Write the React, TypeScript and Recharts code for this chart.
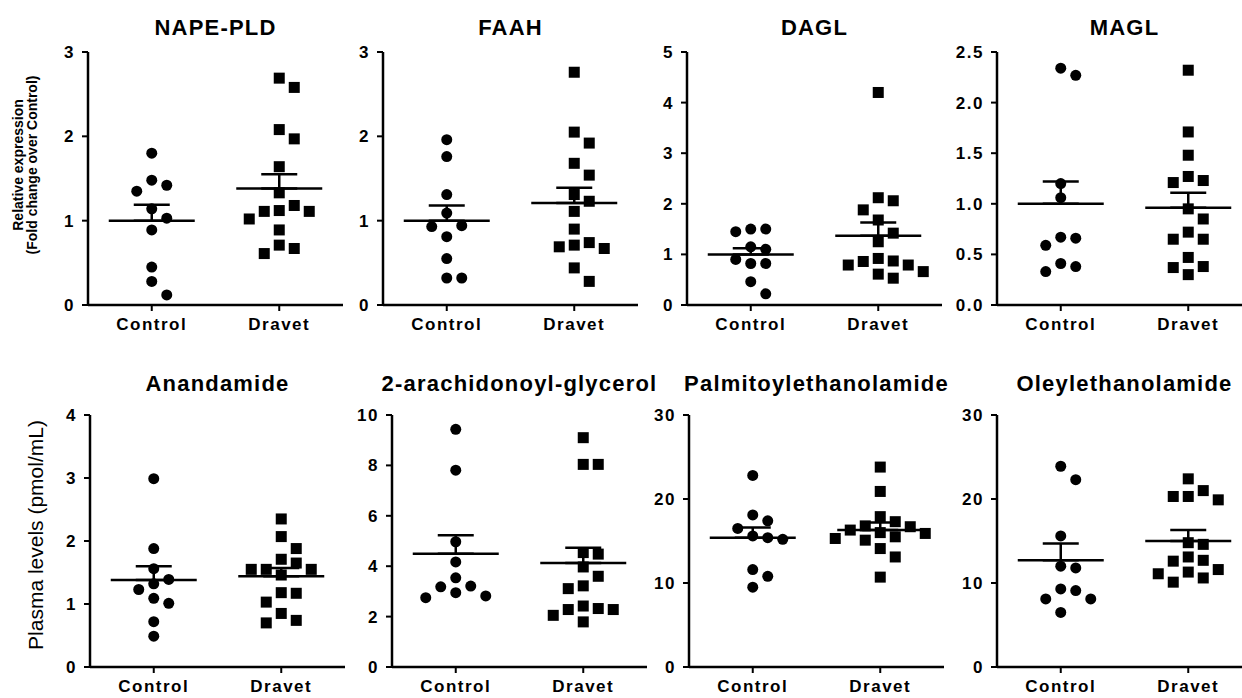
import React from "react";
import { ErrorBar, Scatter, ScatterChart, XAxis, YAxis } from "recharts";

const GROUPS = ["Control", "Dravet"];

// relative expression (fold change over control)
const napeControl = [1.8, 1.48, 1.42, 1.35, 1.14, 1.03, 0.89, 0.45, 0.28, 0.12];
const napeDravet = [2.69, 2.58, 2.08, 1.97, 1.64, 1.33, 1.18, 1.11, 1.11, 1.12, 1.02, 0.89, 0.71, 0.67, 0.61];
const napeMean = [1.0, 1.38];
const napeSem = [0.19, 0.17];
const napeTicks = [0, 1, 2, 3];

const faahControl = [1.96, 1.76, 1.31, 1.09, 0.94, 0.93, 0.81, 0.55, 0.32, 0.32];
const faahDravet = [2.76, 2.05, 1.92, 1.68, 1.54, 1.31, 1.23, 1.11, 0.9, 0.74, 0.69, 0.67, 0.71, 0.44, 0.28];
const faahMean = [1.0, 1.21];
const faahSem = [0.18, 0.18];
const faahTicks = [0, 1, 2, 3];

const daglControl = [1.5, 1.5, 1.45, 1.15, 1.1, 0.9, 0.82, 0.82, 0.46, 0.22];
const daglDravet = [4.2, 2.12, 2.06, 1.88, 1.68, 1.42, 1.25, 0.92, 0.87, 0.86, 0.79, 0.79, 0.66, 0.61, 0.53];
const daglMean = [1.0, 1.37];
const daglSem = [0.12, 0.26];
const daglTicks = [0, 1, 2, 3, 4, 5];

const maglControl = [2.34, 2.27, 1.2, 1.06, 0.67, 0.66, 0.59, 0.41, 0.38, 0.33];
const maglDravet = [2.32, 1.71, 1.48, 1.27, 1.23, 1.21, 0.95, 0.85, 0.72, 0.65, 0.65, 0.47, 0.38, 0.37, 0.3];
const maglMean = [1.0, 0.96];
const maglSem = [0.22, 0.15];
const maglTicks = [0, 0.5, 1, 1.5, 2, 2.5];

// plasma levels (pmol/mL)
const aeaControl = [2.99, 1.88, 1.56, 1.39, 1.32, 1.23, 1.09, 1.01, 0.72, 0.49];
const aeaDravet = [2.35, 2.07, 1.88, 1.71, 1.65, 1.55, 1.55, 1.55, 1.46, 1.18, 1.17, 1.03, 0.85, 0.74, 0.7];
const aeaMean = [1.38, 1.44];
const aeaSem = [0.22, 0.13];
const aeaTicks = [0, 1, 2, 3, 4];

const agControl = [9.43, 7.81, 4.97, 4.17, 3.54, 3.21, 3.18, 2.95, 2.82, 2.75];
const agDravet = [9.1, 8.04, 8.04, 4.54, 4.48, 3.97, 3.6, 3.22, 3.11, 2.42, 2.32, 2.28, 2.28, 2.05, 1.79];
const agMean = [4.49, 4.13];
const agSem = [0.74, 0.6];
const agTicks = [0, 2, 4, 6, 8, 10];

const peaControl = [22.8, 18.1, 17.4, 16.5, 15.6, 15.4, 15.2, 11.6, 10.8, 9.5];
const peaDravet = [23.8, 20.9, 17.9, 17.3, 16.8, 16.7, 16.3, 16.0, 15.9, 15.5, 15.3, 15.1, 14.1, 13.1, 10.7];
const peaMean = [15.4, 16.3];
const peaSem = [1.2, 0.9];
const peaTicks = [0, 10, 20, 30];

const oeaControl = [23.9, 22.3, 15.6, 12.0, 11.8, 9.3, 9.1, 8.1, 8.1, 6.5];
const oeaDravet = [22.4, 21.0, 20.3, 20.3, 19.9, 14.8, 14.6, 13.1, 12.7, 12.6, 11.6, 11.3, 11.1, 10.6, 10.1];
const oeaMean = [12.7, 15.0];
const oeaSem = [2.0, 1.3];
const oeaTicks = [0, 10, 20, 30];

const titles = [
  "NAPE-PLD", "FAAH", "DAGL", "MAGL",
  "Anandamide", "2-arachidonoyl-glycerol", "Palmitoylethanolamide", "Oleylethanolamide",
];

const panels = [
  { control: napeControl, dravet: napeDravet, mean: napeMean, sem: napeSem, ticks: napeTicks },
  { control: faahControl, dravet: faahDravet, mean: faahMean, sem: faahSem, ticks: faahTicks },
  { control: daglControl, dravet: daglDravet, mean: daglMean, sem: daglSem, ticks: daglTicks },
  { control: maglControl, dravet: maglDravet, mean: maglMean, sem: maglSem, ticks: maglTicks },
  { control: aeaControl, dravet: aeaDravet, mean: aeaMean, sem: aeaSem, ticks: aeaTicks },
  { control: agControl, dravet: agDravet, mean: agMean, sem: agSem, ticks: agTicks },
  { control: peaControl, dravet: peaDravet, mean: peaMean, sem: peaSem, ticks: peaTicks },
  { control: oeaControl, dravet: oeaDravet, mean: oeaMean, sem: oeaSem, ticks: oeaTicks },
];

// layout
const FONT = "Arial, 'Liberation Sans', Helvetica, sans-serif";
const AXIS_X = [88, 383, 687, 997, 90, 392, 689, 997];
const PLOT_TOP = [52, 415];
const PLOT_H = [253, 252];
const PLOT_W = 255;
const LEFT = 88;
const COL_STEP = 15; // px between swarm columns
const GAP = 14; // min vertical px between points sharing a column

// simple beeswarm: points that sit too close vertically get pushed into side columns
function swarm(values: number[], pxPerUnit: number) {
  const order = values.map((_, i) => i).sort((a, b) => values[b] - values[a]);
  const slots = new Array(values.length).fill(0);
  const placed: { y: number; s: number }[] = [];
  const cands = [0, 1, -1, 2, -2, 3, -3];
  for (const i of order) {
    const y = values[i] * pxPerUnit;
    const s = cands.find((c) => placed.every((p) => p.s !== c || Math.abs(p.y - y) >= GAP)) ?? 0;
    slots[i] = s;
    placed.push({ y, s });
  }
  return slots;
}

const Dot = (p: any) => <circle cx={p.cx} cy={p.cy} r={5.5} fill="#000" />;
const Square = (p: any) => <rect x={p.cx - 5.5} y={p.cy - 5.5} width={11} height={11} fill="#000" />;
const MeanLine = (p: any) => (
  <line x1={p.cx - 43} x2={p.cx + 43} y1={p.cy} y2={p.cy} stroke="#000" strokeWidth={2.5} />
);

const renderXTick = (p: any) => (
  <text x={p.x} y={p.y + 17} textAnchor="middle" fontSize={17} fontWeight="bold" letterSpacing={1.5} fill="#000" fontFamily={FONT}>
    {GROUPS[Math.round(p.payload.value - 0.5)]}
  </text>
);

function Panel({ idx }: { idx: number }) {
  const cfg = panels[idx];
  const row = idx < 4 ? 0 : 1;
  const ymax = cfg.ticks[cfg.ticks.length - 1];
  const pxPerUnit = PLOT_H[row] / ymax;
  const unitPerPx = 2 / PLOT_W;
  const decimals = cfg.ticks.some((t) => t % 1 !== 0) ? 1 : 0;

  const build = (vals: number[], g: number) => {
    const slots = swarm(vals, pxPerUnit);
    return vals.map((v, i) => ({ x: g + 0.5 + slots[i] * COL_STEP * unitPerPx, y: v }));
  };
  const summary = GROUPS.map((_, i) => ({ x: i + 0.5, y: cfg.mean[i], err: [0, cfg.sem[i]] }));

  const renderYTick = (p: any) => (
    <text x={p.x - 5} y={p.y} dy={6} textAnchor="end" fontSize={17} fontWeight="bold" letterSpacing={1.5} fill="#000" fontFamily={FONT}>
      {Number(p.payload.value).toFixed(decimals)}
    </text>
  );

  return (
    <div style={{ position: "absolute", left: AXIS_X[idx] - LEFT, top: PLOT_TOP[row] - 52 }}>
      <ScatterChart width={LEFT + PLOT_W + 6} height={52 + PLOT_H[row] + 40} margin={{ top: 52, right: 6, bottom: 0, left: 18 }}>
        <XAxis
          type="number"
          dataKey="x"
          domain={[0, 2]}
          ticks={[0.5, 1.5]}
          interval={0}
          height={40}
          allowDataOverflow
          axisLine={{ stroke: "#000", strokeWidth: 2.5 }}
          tickLine={{ stroke: "#000", strokeWidth: 2 }}
          tickSize={6}
          tick={renderXTick}
        />
        <YAxis
          type="number"
          dataKey="y"
          domain={[0, ymax]}
          ticks={cfg.ticks}
          interval={0}
          width={70}
          allowDataOverflow
          axisLine={{ stroke: "#000", strokeWidth: 2.5 }}
          tickLine={{ stroke: "#000", strokeWidth: 2 }}
          tickSize={6}
          tick={renderYTick}
        />
        <Scatter name="Control" data={build(cfg.control, 0)} shape={Dot} isAnimationActive={false} />
        <Scatter name="Dravet" data={build(cfg.dravet, 1)} shape={Square} isAnimationActive={false} />
        <Scatter name="Mean ± SEM" data={summary} shape={MeanLine} isAnimationActive={false}>
          <ErrorBar dataKey="err" direction="y" width={18} stroke="#000" strokeWidth={2.5} isAnimationActive={false} />
        </Scatter>
      </ScatterChart>
    </div>
  );
}

export default function App() {
  return (
    <div style={{ position: "absolute", left: 0, top: 0, width: 1242, height: 698, overflow: "hidden", background: "#fff", fontFamily: FONT }}>
      {panels.map((_, i) => (
        <Panel key={i} idx={i} />
      ))}
      <svg width={1242} height={698} style={{ position: "absolute", left: 0, top: 0, pointerEvents: "none" }}>
        {titles.map((t, i) => (
          <text
            key={t}
            x={AXIS_X[i] + PLOT_W / 2}
            y={i < 4 ? 35 : 391}
            textAnchor="middle"
            fontSize={22}
            fontWeight="bold"
            letterSpacing={1.2}
            fill="#000"
            fontFamily={FONT}
          >
            {t}
          </text>
        ))}
        <text x={18} y={165} transform="rotate(-90 18 165)" dy="0.35em" textAnchor="middle" fontSize={14} fontWeight="bold" fill="#000" fontFamily={FONT}>
          Relative expression
        </text>
        <text x={32} y={165} transform="rotate(-90 32 165)" dy="0.35em" textAnchor="middle" fontSize={14} fontWeight="bold" fill="#000" fontFamily={FONT}>
          (Fold change over Control)
        </text>
        <text x={36} y={535} transform="rotate(-90 36 535)" dy="0.35em" textAnchor="middle" fontSize={21} fill="#000" fontFamily={FONT}>
          Plasma levels (pmol/mL)
        </text>
      </svg>
    </div>
  );
}
